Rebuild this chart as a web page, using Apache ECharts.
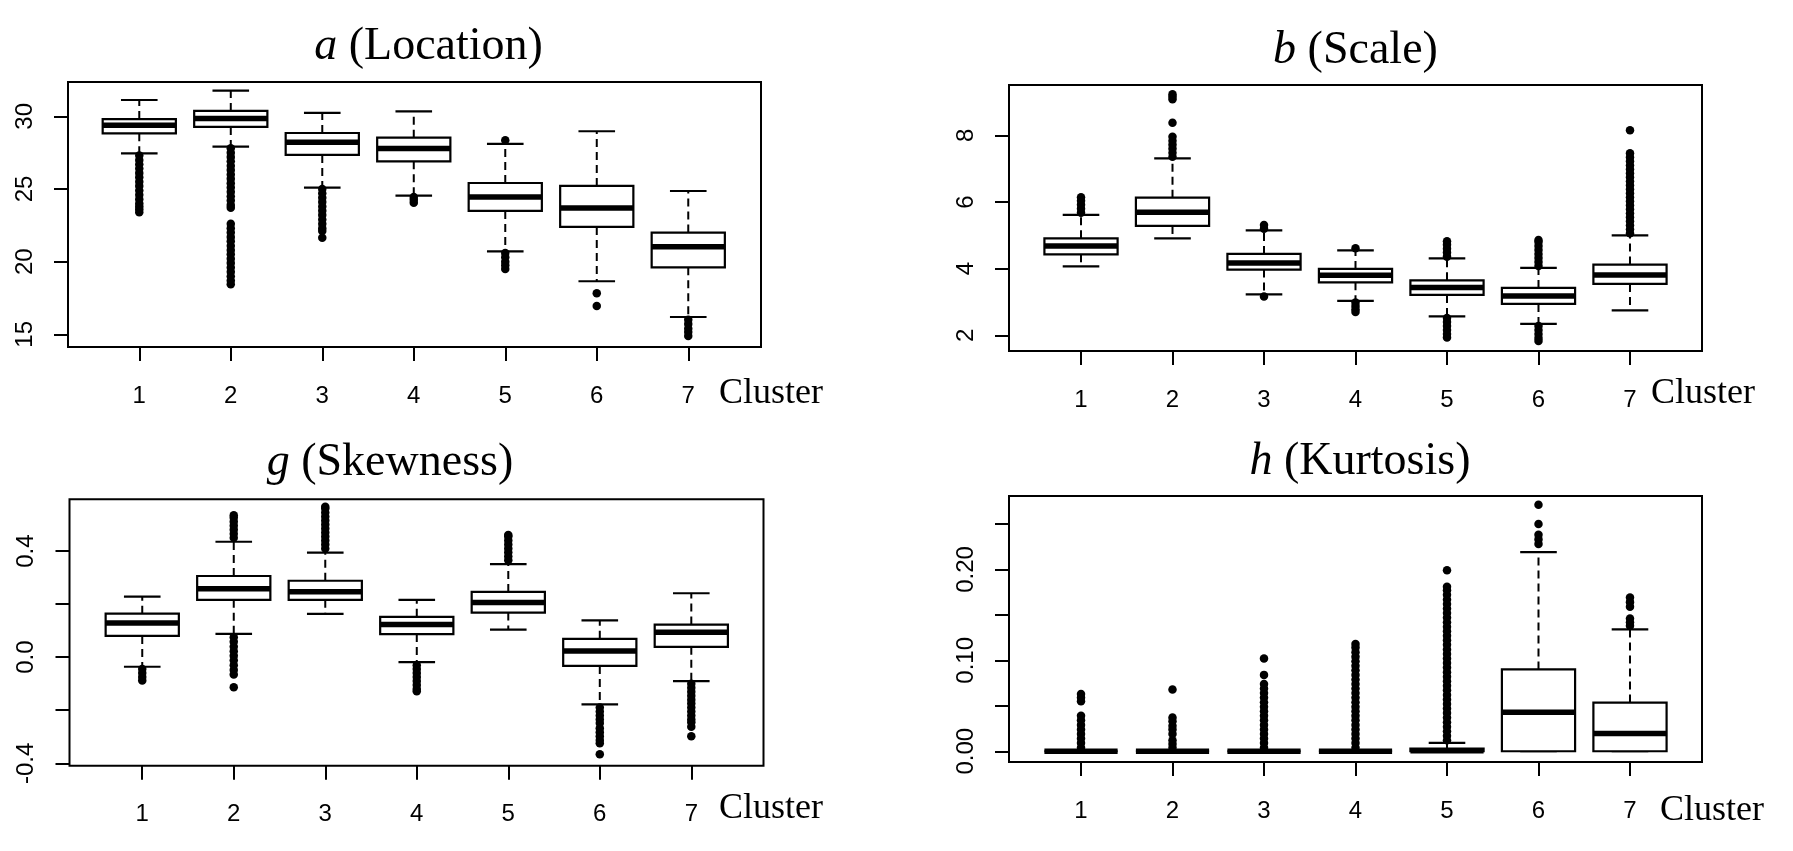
<!DOCTYPE html>
<html>
<head>
<meta charset="utf-8">
<script src="https://cdn.jsdelivr.net/npm/echarts@6.0.0/dist/echarts.min.js"></script>
<style>
html, body { margin: 0; padding: 0; background: #fff; }
#main { width: 1793px; height: 851px; }
</style>
</head>
<body>
<div id="main"></div>
<script>
// clusters on the x axis
var clusters = [1, 2, 3, 4, 5, 6, 7];

// box stats per cluster: [lower whisker, Q1, median, Q3, upper whisker]
var locStats = [
  [27.45, 28.83, 29.38, 29.81, 31.12],
  [27.91, 29.27, 29.84, 30.37, 31.77],
  [25.09, 27.34, 28.21, 28.85, 30.23],
  [24.54, 26.90, 27.78, 28.53, 30.34],
  [20.71, 23.49, 24.45, 25.41, 28.10],
  [18.65, 22.39, 23.69, 25.21, 28.97],
  [16.19, 19.61, 21.03, 22.00, 24.86]
];
var scaleStats = [
  [4.07, 4.43, 4.68, 4.91, 5.61],
  [4.91, 5.28, 5.69, 6.13, 7.31],
  [3.23, 3.97, 4.17, 4.44, 5.15],
  [3.03, 3.59, 3.80, 3.99, 4.55],
  [2.57, 3.21, 3.43, 3.65, 4.31],
  [2.34, 2.94, 3.18, 3.42, 4.02],
  [2.75, 3.54, 3.81, 4.12, 5.00]
];
var skewStats = [
  [-0.036, 0.080, 0.129, 0.164, 0.228],
  [0.088, 0.216, 0.258, 0.306, 0.435],
  [0.163, 0.216, 0.247, 0.288, 0.394],
  [-0.019, 0.087, 0.123, 0.152, 0.216],
  [0.104, 0.168, 0.206, 0.246, 0.351],
  [-0.178, -0.033, 0.023, 0.069, 0.139],
  [-0.090, 0.039, 0.094, 0.123, 0.241]
];
var kurtStats = [
  [0, 0, 0, 0, 0],
  [0, 0, 0, 0, 0],
  [0, 0, 0, 0, 0],
  [0, 0, 0, 0, 0],
  [0, 0, 0.0005, 0.003, 0.0092],
  [0, 0, 0.043, 0.090, 0.219],
  [0, 0, 0.0195, 0.0536, 0.134]
];

// outliers per cluster
var locOut = [
  [27.3, 27.0, 26.7, 26.4, 26.1, 25.8, 25.5, 25.2, 24.9, 24.6, 24.3, 24.0, 23.8, 23.6, 23.4],
  [27.8, 27.5, 27.2, 26.9, 26.6, 26.3, 26.0, 25.7, 25.4, 25.1, 24.8, 24.5, 24.2, 23.9, 23.7,
   22.6, 22.3, 22.0, 21.7, 21.4, 21.1, 20.8, 20.5, 20.2, 19.9, 19.6, 19.3, 19.0, 18.7, 18.45],
  [25.0, 24.7, 24.4, 24.1, 23.8, 23.5, 23.2, 22.9, 22.6, 22.3, 22.1, 21.65],
  [24.45, 24.25, 24.05],
  [28.35, 20.6, 20.3, 20.0, 19.75, 19.5],
  [17.82, 16.94],
  [16.0, 15.7, 15.4, 15.15, 14.88]
];
var scaleOut = [
  [5.68, 5.8, 5.92, 6.04, 6.14],
  [7.36, 7.48, 7.6, 7.72, 7.84, 7.96, 8.38, 9.08, 9.16, 9.23],
  [5.2, 5.31, 3.16],
  [4.61, 2.98, 2.88, 2.78, 2.7],
  [4.36, 4.48, 4.6, 4.72, 4.82, 2.52, 2.4, 2.28, 2.16, 2.04, 1.93],
  [4.08, 4.2, 4.32, 4.44, 4.56, 4.68, 4.8, 4.86, 2.28, 2.16, 2.04, 1.92, 1.83],
  [5.06, 5.18, 5.3, 5.42, 5.54, 5.66, 5.78, 5.9, 6.02, 6.14, 6.26, 6.38, 6.5, 6.62, 6.74,
   6.86, 6.98, 7.1, 7.22, 7.34, 7.46, 8.15]
];
var skewOut = [
  [-0.045, -0.06, -0.075, -0.088],
  [0.45, 0.465, 0.48, 0.495, 0.51, 0.525, 0.535, 0.075, 0.058, 0.04, 0.022, 0.005, -0.012,
   -0.03, -0.048, -0.065, -0.113],
  [0.41, 0.425, 0.44, 0.455, 0.47, 0.485, 0.5, 0.515, 0.53, 0.545, 0.56, 0.567],
  [-0.03, -0.045, -0.06, -0.075, -0.09, -0.105, -0.12, -0.128],
  [0.365, 0.38, 0.395, 0.41, 0.425, 0.44, 0.455, 0.46],
  [-0.19, -0.205, -0.22, -0.235, -0.248, -0.268, -0.283, -0.298, -0.312, -0.324, -0.366],
  [-0.1, -0.115, -0.13, -0.145, -0.16, -0.175, -0.19, -0.205, -0.22, -0.235, -0.245, -0.262, -0.298]
];
var kurtOut = [
  [0.004, 0.009, 0.014, 0.019, 0.024, 0.029, 0.034, 0.039, 0.055, 0.059, 0.063],
  [0.004, 0.008, 0.012, 0.019, 0.024, 0.028, 0.033, 0.037, 0.068],
  [0.004, 0.009, 0.014, 0.019, 0.024, 0.029, 0.034, 0.039, 0.044, 0.049, 0.054, 0.059,
   0.064, 0.069, 0.074, 0.084, 0.102],
  [0.004, 0.009, 0.014, 0.019, 0.024, 0.029, 0.034, 0.039, 0.044, 0.049, 0.054, 0.059,
   0.064, 0.069, 0.074, 0.079, 0.084, 0.089, 0.094, 0.099, 0.104, 0.109, 0.114, 0.118],
  [0.012, 0.017, 0.022, 0.027, 0.032, 0.037, 0.042, 0.047, 0.052, 0.057, 0.062, 0.067,
   0.072, 0.077, 0.082, 0.087, 0.092, 0.097, 0.102, 0.107, 0.112, 0.117, 0.122, 0.127,
   0.132, 0.137, 0.142, 0.147, 0.152, 0.157, 0.162, 0.167, 0.172, 0.177, 0.181, 0.199],
  [0.228, 0.233, 0.238, 0.25, 0.271],
  [0.138, 0.142, 0.146, 0.159, 0.164, 0.169]
];

// y tick values and labelled values
var locTicks = [15, 20, 25, 30];
var scaleTicks = [2, 4, 6, 8];
var skewTicks = [-0.4, -0.2, 0, 0.2, 0.4];
var skewLabels = [-0.4, 0, 0.4];
var kurtTicks = [0, 0.05, 0.1, 0.15, 0.2, 0.25];
var kurtLabels = [0, 0.1, 0.2];

var chart = echarts.init(document.getElementById('main'));

var SANS = 'Liberation Sans';
var SERIF = 'Liberation Serif';

function makeGrid(left, top, width, height) {
  return {
    left: left, top: top, width: width, height: height,
    show: true, borderColor: '#000', borderWidth: 2, backgroundColor: 'transparent',
    outerBoundsMode: 'none'
  };
}

function makeX(gi, min, max) {
  return {
    type: 'value', gridIndex: gi, min: min, max: max,
    axisLine: { show: false, onZero: false },
    axisTick: { show: true, length: 14, lineStyle: { color: '#000', width: 2 }, customValues: clusters },
    axisLabel: { customValues: clusters, margin: 37, fontFamily: SANS, fontSize: 24, color: '#000' },
    splitLine: { show: false }
  };
}

function makeY(gi, min, max, ticks, labels, digits) {
  return {
    type: 'value', gridIndex: gi, min: min, max: max,
    axisLine: { show: false, onZero: false },
    axisTick: { show: true, length: 14, lineStyle: { color: '#000', width: 2 }, customValues: ticks },
    axisLabel: {
      customValues: labels, rotate: 90, margin: 31, fontFamily: SANS, fontSize: 24, color: '#000',
      formatter: function (v) { return Number(v).toFixed(digits); }
    },
    splitLine: { show: false }
  };
}

// R style box: dashed whiskers, short staples, white box, thick median
function renderBox(params, api) {
  var x = api.value(0);
  var p = [1, 2, 3, 4, 5].map(function (d) { return api.coord([x, api.value(d)]); });
  var cx = p[0][0];
  var hb = api.size([0.8, 0])[0] / 2;
  var hs = hb / 2;
  function solid(w) { return { stroke: '#000', lineWidth: w, fill: null }; }
  return {
    type: 'group',
    children: [
      { type: 'line', shape: { x1: cx, y1: p[3][1], x2: cx, y2: p[4][1] },
        style: { stroke: '#000', lineWidth: 2, lineDash: [8, 5] } },
      { type: 'line', shape: { x1: cx, y1: p[1][1], x2: cx, y2: p[0][1] },
        style: { stroke: '#000', lineWidth: 2, lineDash: [8, 5] } },
      { type: 'line', shape: { x1: cx - hs, y1: p[4][1], x2: cx + hs, y2: p[4][1] }, style: solid(2.2) },
      { type: 'line', shape: { x1: cx - hs, y1: p[0][1], x2: cx + hs, y2: p[0][1] }, style: solid(2.2) },
      { type: 'rect', shape: { x: cx - hb, y: p[3][1], width: hb * 2, height: p[1][1] - p[3][1] },
        style: { fill: '#fff', stroke: '#000', lineWidth: 2.2 } },
      { type: 'line', shape: { x1: cx - hb, y1: p[2][1], x2: cx + hb, y2: p[2][1] }, style: solid(5.5) }
    ]
  };
}

function boxSeries(gi, stats) {
  return {
    type: 'custom', xAxisIndex: gi, yAxisIndex: gi,
    renderItem: renderBox,
    encode: { x: 0, y: [1, 2, 3, 4, 5] },
    data: stats.map(function (s, k) { return [clusters[k]].concat(s); }),
    silent: true
  };
}

function outSeries(gi, outs) {
  var pts = [];
  outs.forEach(function (list, k) {
    list.forEach(function (v) { pts.push([clusters[k], v]); });
  });
  return {
    type: 'scatter', xAxisIndex: gi, yAxisIndex: gi,
    symbol: 'circle', symbolSize: 8.5,
    itemStyle: { color: '#000', opacity: 1 },
    data: pts, silent: true
  };
}

function titleText(x, y, letter, rest) {
  return {
    type: 'text', x: x, y: y,
    style: {
      text: '{i|' + letter + '} ' + rest,
      fill: '#000', fontFamily: SERIF, fontSize: 46,
      textAlign: 'center', textVerticalAlign: 'middle',
      rich: { i: { fontStyle: 'italic', fontFamily: SERIF, fontSize: 46, fill: '#000' } }
    }
  };
}

function clusterText(x, y) {
  return {
    type: 'text', x: x, y: y,
    style: { text: 'Cluster', fill: '#000', fontFamily: SERIF, fontSize: 36,
      textAlign: 'left', textVerticalAlign: 'middle' }
  };
}

var option = {
  animation: false,
  backgroundColor: '#fff',
  grid: [
    makeGrid(68, 82, 693, 265),
    makeGrid(1009, 85, 693, 266),
    makeGrid(69.5, 499.3, 694, 266.4),
    makeGrid(1009, 496, 693, 266)
  ],
  xAxis: [
    makeX(0, 0.221, 7.795),
    makeX(1, 0.213, 7.787),
    makeX(2, 0.205, 7.789),
    makeX(3, 0.213, 7.787)
  ],
  yAxis: [
    makeY(0, 14.126, 32.36, locTicks, locTicks, 0),
    makeY(1, 1.528, 9.51, scaleTicks, scaleTicks, 0),
    makeY(2, -0.409, 0.595, skewTicks, skewLabels, 1),
    makeY(3, -0.0118, 0.2807, kurtTicks, kurtLabels, 2)
  ],
  series: [
    boxSeries(0, locStats), outSeries(0, locOut),
    boxSeries(1, scaleStats), outSeries(1, scaleOut),
    boxSeries(2, skewStats), outSeries(2, skewOut),
    boxSeries(3, kurtStats), outSeries(3, kurtOut)
  ],
  graphic: [
    titleText(428.6, 47, 'a', '(Location)'),
    titleText(1355.5, 50.5, 'b', '(Scale)'),
    titleText(390, 463, 'g', '(Skewness)'),
    titleText(1360, 461.5, 'h', '(Kurtosis)'),
    clusterText(719, 394),
    clusterText(1651, 394),
    clusterText(719, 809),
    clusterText(1660, 810.5)
  ]
};

chart.setOption(option);
</script>
</body>
</html>
